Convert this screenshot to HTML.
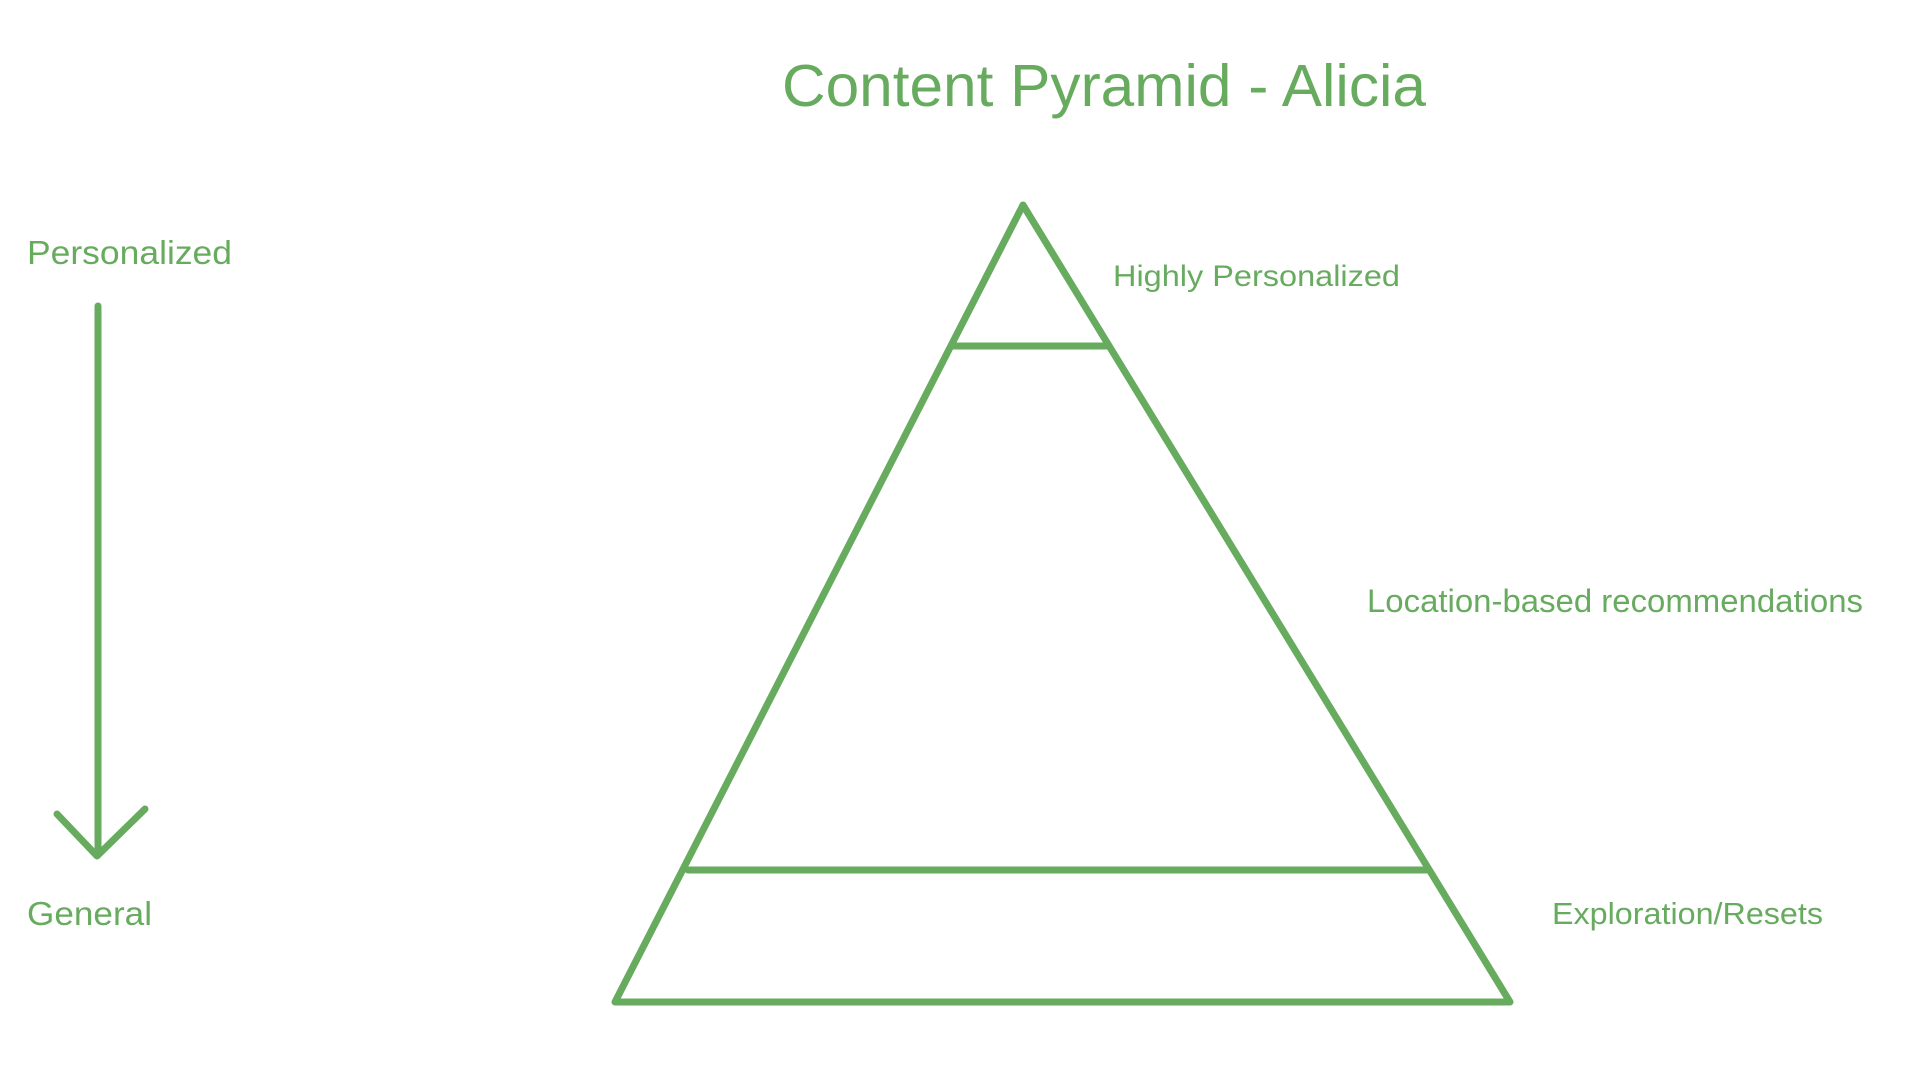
<!DOCTYPE html>
<html>
<head>
<meta charset="utf-8">
<style>
  html,body{margin:0;padding:0;background:#ffffff;}
  body{width:1926px;height:1070px;overflow:hidden;}
  svg{display:block;}
  text{font-family:"Liberation Sans", Arial, Helvetica, sans-serif;fill:#67ab5f;}
</style>
</head>
<body>
<svg width="1926" height="1070" viewBox="0 0 1926 1070" xmlns="http://www.w3.org/2000/svg">
  <rect width="1926" height="1070" fill="#ffffff"/>
  <!-- Title -->
  <text x="782" y="106" font-size="59" textLength="644" lengthAdjust="spacingAndGlyphs">Content Pyramid - Alicia</text>

  <!-- Left axis labels -->
  <text x="27" y="264" font-size="33" textLength="205" lengthAdjust="spacingAndGlyphs">Personalized</text>
  <text x="27" y="925" font-size="33" textLength="125" lengthAdjust="spacingAndGlyphs">General</text>

  <!-- Arrow -->
  <g stroke="#67ab5f" stroke-width="7" stroke-linecap="round" stroke-linejoin="round" fill="none">
    <line x1="98" y1="306" x2="98" y2="855"/>
    <polyline points="57,814 97,856 145,809"/>
  </g>

  <!-- Pyramid -->
  <g stroke="#67ab5f" stroke-width="7" stroke-linecap="round" stroke-linejoin="round" fill="none">
    <polygon points="1023,205 1510,1002 615,1002"/>
    <line x1="953" y1="346" x2="1109" y2="346"/>
    <line x1="688" y1="870" x2="1427" y2="870"/>
  </g>

  <!-- Right labels -->
  <text x="1113" y="286" font-size="30" textLength="287" lengthAdjust="spacingAndGlyphs">Highly Personalized</text>
  <text x="1367" y="612" font-size="32" textLength="496" lengthAdjust="spacingAndGlyphs">Location-based recommendations</text>
  <text x="1552" y="924" font-size="31" textLength="271" lengthAdjust="spacingAndGlyphs">Exploration/Resets</text>
</svg>
</body>
</html>
